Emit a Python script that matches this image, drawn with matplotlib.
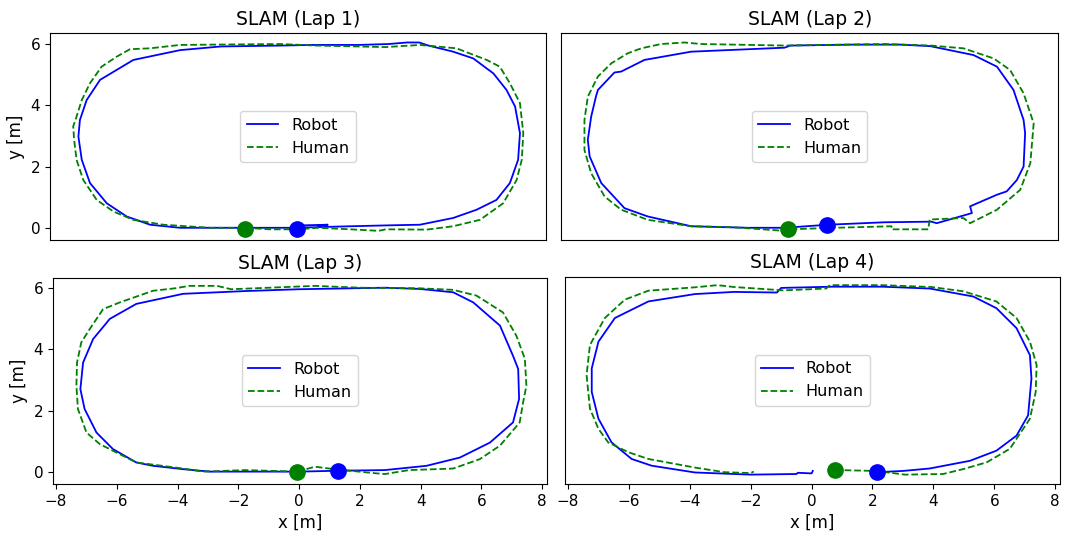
"""
SLAM laps: robot vs human trajectory, four panels
"""
import matplotlib
matplotlib.use("Agg")
import matplotlib.pyplot as plt
import numpy as np

# ---- data (x, y in metres) ----
lap_titles = ["SLAM (Lap 1)", "SLAM (Lap 2)", "SLAM (Lap 3)", "SLAM (Lap 4)"]

lap1_robot = [(0.0, 0.0), (0.6, 0.02), (1.75, 0.05), (3.0, 0.08), (4.02, 0.1), (5.11, 0.32),
              (5.88, 0.59), (6.53, 0.91), (6.97, 1.46), (7.24, 2.22), (7.3, 3.09), (7.14, 3.96),
              (6.86, 4.5), (6.43, 5.04), (5.77, 5.53), (5.11, 5.75), (4.3, 5.95), (4.0, 6.05),
              (3.6, 6.05), (3.0, 6.0), (2.0, 5.97), (0.5, 5.97), (-0.5, 5.95), (-2.5, 5.92),
              (-3.84, 5.8), (-5.37, 5.48), (-6.46, 4.83), (-6.9, 4.17), (-7.12, 3.52),
              (-7.17, 2.98), (-7.06, 2.22), (-6.79, 1.46), (-6.24, 0.8), (-5.59, 0.37),
              (-4.82, 0.1), (-3.84, 0.0), (-2.0, 0.0), (-0.8, 0.0), (-0.2, 0.0), (0.2, 0.08),
              (1.0, 0.1), (0.7, 0.08)]
lap1_human = [(-1.7, 0.0), (-0.9, -0.05), (0.0, -0.05), (0.7, 0.0), (1.75, -0.05),
              (2.67, -0.1), (2.9, -0.05), (4.24, -0.06), (5.11, 0.05), (5.99, 0.26),
              (6.75, 0.8), (7.19, 1.56), (7.36, 2.22), (7.41, 3.09), (7.3, 4.07), (6.97, 4.72),
              (6.64, 5.26), (6.21, 5.48), (5.22, 5.86), (4.02, 5.97), (2.9, 5.9), (0.6, 5.95),
              (-0.55, 6.0), (-3.84, 5.97), (-4.82, 5.86), (-5.48, 5.83), (-5.91, 5.59),
              (-6.41, 5.26), (-6.79, 4.72), (-7.06, 4.17), (-7.23, 3.63), (-7.34, 3.31),
              (-7.31, 2.87), (-7.23, 2.22), (-7.01, 1.56), (-6.57, 0.91), (-6.02, 0.53),
              (-5.37, 0.26), (-4.39, 0.1), (-2.85, 0.0), (-1.7, 0.0)]
lap1_start_robot = (0.0, -0.05)
lap1_start_human = (-1.7, -0.05)

lap2_robot = [(0.62, 0.1), (2.48, 0.18), (4.0, 0.2), (4.18, 0.15), (5.33, 0.48), (5.27, 0.7),
              (6.15, 1.08), (6.47, 1.19), (6.8, 1.56), (7.02, 2.0), (7.07, 3.09), (7.02, 3.52),
              (6.69, 4.5), (6.15, 5.26), (5.38, 5.64), (3.97, 5.93), (3.0, 5.98), (1.38, 5.98),
              (-0.6, 5.95), (-0.8, 5.88), (-3.85, 5.75), (-5.38, 5.48), (-6.14, 5.1),
              (-6.36, 5.07), (-6.9, 4.5), (-6.96, 4.3), (-7.12, 3.63), (-7.23, 2.87),
              (-7.17, 2.33), (-6.79, 1.46), (-6.03, 0.64), (-5.27, 0.37), (-3.85, 0.05),
              (-2.0, 0.0), (-0.8, 0.0), (0.62, 0.1)]
lap2_human = [(-0.67, -0.05), (-0.8, -0.1), (-2.5, 0.02), (-3.85, 0.05), (-5.27, 0.26),
              (-6.14, 0.59), (-6.68, 1.02), (-7.12, 1.78), (-7.34, 2.54), (-7.34, 3.52),
              (-7.23, 4.28), (-6.9, 4.94), (-6.46, 5.37), (-5.92, 5.7), (-5.48, 5.86),
              (-4.83, 6.0), (-4.07, 6.05), (-3.52, 6.0), (-0.8, 5.95), (2.48, 6.0), (3.97, 5.95),
              (5.05, 5.86), (6.04, 5.53), (6.58, 5.15), (7.02, 4.39), (7.35, 3.41), (7.24, 2.11),
              (6.91, 1.24), (6.15, 0.59), (5.27, 0.15), (5.05, 0.32), (3.95, 0.27),
              (3.9, -0.05), (2.7, -0.05), (2.7, 0.05), (0.84, 0.0), (-0.67, -0.05)]
lap2_start_robot = (0.6, 0.1)
lap2_start_human = (-0.68, -0.05)

lap3_robot = [(1.32, 0.03), (2.82, 0.05), (4.19, 0.19), (5.29, 0.46), (6.28, 0.95),
              (7.04, 1.61), (7.24, 2.38), (7.21, 3.36), (7.04, 3.79), (6.61, 4.78),
              (5.73, 5.54), (5.07, 5.87), (3.97, 5.98), (2.82, 6.02), (0.0, 5.97),
              (-1.78, 5.91), (-3.82, 5.82), (-5.36, 5.49), (-6.23, 5.0), (-6.78, 4.34),
              (-7.11, 3.57), (-7.2, 2.7), (-7.06, 2.05), (-6.67, 1.28), (-6.13, 0.74),
              (-5.36, 0.3), (-4.81, 0.19), (-3.82, 0.08), (-2.93, 0.0), (0.0, 0.0), (1.32, 0.03)]
lap3_human = [(-0.06, 0.0), (0.52, 0.16), (1.0, 0.1), (1.67, 0.03), (2.47, -0.05),
              (2.82, -0.08), (3.62, 0.05), (5.07, 0.1), (5.95, 0.41), (6.61, 0.85),
              (7.26, 1.61), (7.37, 2.26), (7.48, 2.81), (7.43, 3.69), (7.15, 4.45),
              (6.71, 5.21), (5.84, 5.76), (5.07, 5.95), (3.97, 6.0), (2.0, 6.02), (0.52, 6.08),
              (-2.24, 5.97), (-2.7, 6.08), (-3.62, 6.08), (-4.09, 6.0), (-4.81, 5.92),
              (-5.9, 5.54), (-6.45, 5.32), (-6.89, 4.67), (-7.17, 4.23), (-7.31, 3.57),
              (-7.33, 2.81), (-7.28, 2.05), (-7.0, 1.28), (-6.56, 0.9), (-5.9, 0.57),
              (-5.36, 0.3), (-3.82, 0.1), (-3.16, 0.0), (-1.78, 0.05), (-0.06, 0.0)]
lap3_start_robot = (1.29, 0.03)
lap3_start_human = (-0.06, 0.0)

lap4_robot = [(0.04, 0.02), (0.0, -0.06), (-0.45, -0.04), (-0.5, -0.08), (-2.0, -0.1),
              (-3.83, -0.03), (-5.25, 0.19), (-5.91, 0.41), (-6.57, 0.95), (-7.0, 1.72),
              (-7.22, 2.59), (-7.22, 3.36), (-7.0, 4.23), (-6.46, 5.0), (-5.36, 5.54),
              (-3.83, 5.78), (-2.55, 5.85), (-1.14, 5.83), (-1.0, 5.98), (0.69, 6.02),
              (2.31, 6.02), (3.88, 5.96), (5.31, 5.7), (6.07, 5.32), (6.73, 4.67),
              (7.17, 3.79), (7.22, 3.03), (7.11, 1.83), (6.73, 1.17), (6.07, 0.68),
              (5.2, 0.35), (3.88, 0.1), (3.0, 0.02), (2.15, -0.02)]
lap4_human = [(0.77, 0.05), (2.1, 0.02), (3.07, -0.1), (4.32, -0.08), (4.98, 0.08),
              (5.75, 0.3), (6.51, 0.74), (7.17, 1.72), (7.36, 2.59), (7.39, 3.47),
              (7.17, 4.23), (6.73, 5.0), (6.07, 5.54), (4.98, 5.87), (3.93, 6.01),
              (2.31, 6.07), (0.6, 6.07), (0.48, 5.96), (-0.93, 5.9), (-2.55, 6.01),
              (-3.09, 6.07), (-3.83, 6.0), (-5.36, 5.89), (-6.13, 5.6), (-6.79, 5.0),
              (-7.28, 4.12), (-7.39, 3.14), (-7.28, 2.05), (-7.0, 1.39), (-6.68, 0.95),
              (-6.02, 0.63), (-5.36, 0.41), (-3.83, 0.13), (-2.87, -0.02), (-2.0, -0.05),
              (-1.9, 0.0)]
lap4_start_robot = (2.15, -0.02)
lap4_start_human = (0.77, 0.05)

robots = [lap1_robot, lap2_robot, lap3_robot, lap4_robot]
humans = [lap1_human, lap2_human, lap3_human, lap4_human]
starts_robot = [lap1_start_robot, lap2_start_robot, lap3_start_robot, lap4_start_robot]
starts_human = [lap1_start_human, lap2_start_human, lap3_start_human, lap4_start_human]

x_ticks = [-8, -6, -4, -2, 0, 2, 4, 6, 8]
y_ticks = [0, 2, 4, 6]

# axes boxes in figure fractions (left, bottom, width, height)
boxes = [(0.0467, 0.553, 0.463, 0.385),
         (0.524, 0.553, 0.464, 0.385),
         (0.0495, 0.099, 0.461, 0.384),
         (0.5275, 0.099, 0.462, 0.386)]

fig = plt.figure(figsize=(10.71, 5.37), dpi=100)

for i in range(4):
    ax = fig.add_axes(boxes[i])
    r = np.array(robots[i])
    h = np.array(humans[i])
    ax.plot(r[:, 0], r[:, 1], color="blue", lw=1.3, label="Robot")
    ax.plot(h[:, 0], h[:, 1], color="green", lw=1.3, ls="--", label="Human")
    ax.plot(*starts_human[i], "o", color="green", ms=11)
    ax.plot(*starts_robot[i], "o", color="blue", ms=11)
    ax.set_xlim(-8.1, 8.15)
    ax.set_ylim(-0.4, 6.35)
    ax.set_xticks(x_ticks)
    ax.set_yticks(y_ticks)
    ax.set_title(lap_titles[i], fontsize=13.5)
    ax.tick_params(labelsize=11)
    ax.legend(loc="center", fontsize=11.5)
    if i % 2 == 0:
        ax.set_ylabel("y [m]", fontsize=12)
    else:
        ax.tick_params(left=False, labelleft=False)
    if i >= 2:
        ax.set_xlabel("x [m]", fontsize=12)
    else:
        ax.tick_params(bottom=False, labelbottom=False)

fig.savefig("out.png", dpi=100)
